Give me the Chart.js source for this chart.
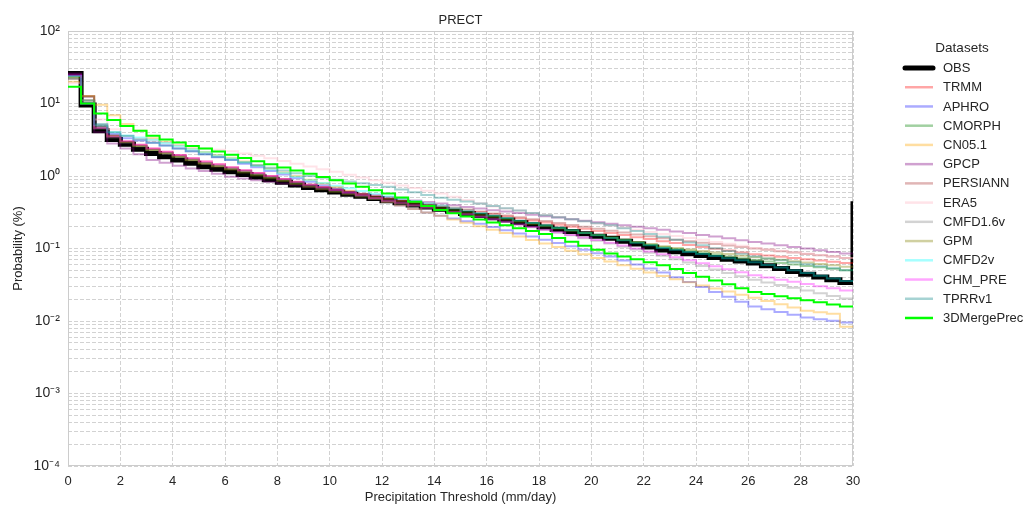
<!DOCTYPE html>
<html>
<head>
<meta charset="utf-8">
<script src="https://cdn.jsdelivr.net/npm/chart.js@4/dist/chart.umd.min.js"></script>
<style>
  html, body { margin: 0; padding: 0; background: #fff; }
  #wrap { width: 1025px; height: 508px; }
</style>
</head>
<body>
<div id="wrap"><canvas id="prect" width="1025" height="508"></canvas></div>
<script>
// precipitation thresholds (mm/day), one step every 0.5
const thresholds = [0, 0.5, 1, 1.5, 2, 2.5, 3, 3.5, 4, 4.5, 5, 5.5, 6, 6.5, 7, 7.5, 8, 8.5, 9, 9.5,
  10, 10.5, 11, 11.5, 12, 12.5, 13, 13.5, 14, 14.5, 15, 15.5, 16, 16.5, 17, 17.5, 18, 18.5, 19, 19.5,
  20, 20.5, 21, 21.5, 22, 22.5, 23, 23.5, 24, 24.5, 25, 25.5, 26, 26.5, 27, 27.5, 28, 28.5, 29, 29.5, 30];

const datasetNames = ['OBS', 'TRMM', 'APHRO', 'CMORPH', 'CN05.1', 'GPCP', 'PERSIANN', 'ERA5',
  'CMFD1.6v', 'GPM', 'CMFD2v', 'CHM_PRE', 'TPRRv1', '3DMergePrec'];

// probability (%) per threshold
const obs = [26, 9.5, 4.2, 3.2, 2.74, 2.33, 2.05, 1.85, 1.66, 1.5, 1.34, 1.24, 1.14, 1.05, 0.966, 0.889, 0.817, 0.752, 0.692, 0.646,
  0.603, 0.562, 0.525, 0.490, 0.457, 0.428, 0.399, 0.373, 0.349, 0.327, 0.305, 0.285, 0.265, 0.247, 0.229, 0.213, 0.198, 0.185, 0.171, 0.160,
  0.148, 0.138, 0.126, 0.115, 0.105, 0.0955, 0.0899, 0.0849, 0.080, 0.0753, 0.0710, 0.0670, 0.0631, 0.0577, 0.0528, 0.0483, 0.0443, 0.0405, 0.0371, 0.0339, 0.45];
const trmm = [22, 11, 5.0, 3.6, 3.02, 2.69, 2.40, 2.16, 1.95, 1.76, 1.58, 1.45, 1.32, 1.20, 1.10, 1.00, 0.912, 0.832, 0.759, 0.703,
  0.650, 0.603, 0.558, 0.516, 0.479, 0.451, 0.426, 0.401, 0.378, 0.356, 0.336, 0.316, 0.296, 0.277, 0.259, 0.243, 0.228, 0.213, 0.200, 0.187,
  0.175, 0.164, 0.153, 0.143, 0.135, 0.126, 0.119, 0.112, 0.105, 0.0993, 0.0935, 0.0883, 0.0832, 0.0800, 0.0769, 0.0740, 0.0710, 0.0682, 0.0656, 0.0631, 0.0631];
const aphro = [24, 10, 4.8, 3.8, 3.31, 3.09, 2.88, 2.63, 2.40, 2.19, 2.00, 1.82, 1.66, 1.48, 1.32, 1.17, 1.05, 0.933, 0.832, 0.746,
  0.671, 0.603, 0.541, 0.486, 0.437, 0.391, 0.351, 0.314, 0.282, 0.259, 0.238, 0.219, 0.198, 0.179, 0.161, 0.146, 0.132, 0.119, 0.107, 0.0959,
  0.0863, 0.0776, 0.0684, 0.0603, 0.0531, 0.0468, 0.0401, 0.0344, 0.0294, 0.0252, 0.0216, 0.0185, 0.0158, 0.0145, 0.0133, 0.0122, 0.0112, 0.0106, 0.0101, 0.0095, 0.0095];
const cmorph = [23, 11, 4.8, 3.6, 2.95, 2.60, 2.29, 2.07, 1.86, 1.68, 1.51, 1.38, 1.27, 1.16, 1.06, 0.968, 0.885, 0.811, 0.741, 0.689,
  0.641, 0.596, 0.553, 0.515, 0.479, 0.448, 0.420, 0.393, 0.368, 0.344, 0.323, 0.302, 0.280, 0.259, 0.240, 0.223, 0.207, 0.192, 0.178, 0.165,
  0.153, 0.142, 0.132, 0.122, 0.113, 0.105, 0.0986, 0.0931, 0.0877, 0.0826, 0.0778, 0.0734, 0.0692, 0.0661, 0.0631, 0.0603, 0.0575, 0.0550, 0.0525, 0.0501, 0.0501];
const cn051 = [20, 12.7, 9.6, 6.9, 5.2, 4.2, 3.31, 2.97, 2.66, 2.39, 2.14, 1.95, 1.78, 1.58, 1.41, 1.26, 1.12, 1.00, 0.891, 0.791,
  0.703, 0.624, 0.553, 0.492, 0.437, 0.391, 0.351, 0.314, 0.282, 0.252, 0.226, 0.203, 0.182, 0.163, 0.146, 0.131, 0.117, 0.105, 0.0933, 0.0832,
  0.0741, 0.0661, 0.0589, 0.0525, 0.0468, 0.0417, 0.0378, 0.0342, 0.0310, 0.0281, 0.0255, 0.0231, 0.0209, 0.0188, 0.0170, 0.0153, 0.0138, 0.0132, 0.0126, 0.0083, 0.0083];
const gpcp = [26, 12.4, 4.0, 2.8, 2.4, 2.0, 1.66, 1.52, 1.39, 1.27, 1.17, 1.07, 0.977, 0.927, 0.877, 0.832, 0.789, 0.746, 0.708, 0.671,
  0.635, 0.603, 0.571, 0.541, 0.513, 0.486, 0.461, 0.438, 0.416, 0.394, 0.374, 0.355, 0.338, 0.323, 0.308, 0.293, 0.279, 0.267, 0.254, 0.242,
  0.231, 0.220, 0.210, 0.200, 0.191, 0.182, 0.172, 0.163, 0.154, 0.146, 0.138, 0.130, 0.123, 0.117, 0.111, 0.105, 0.0998, 0.0946, 0.0897, 0.0851, 0.0851];
const persiann = [24, 12.7, 4.8, 3.6, 2.95, 2.63, 2.34, 2.10, 1.88, 1.69, 1.51, 1.39, 1.27, 1.17, 1.07, 0.982, 0.902, 0.826, 0.759, 0.705,
  0.656, 0.610, 0.566, 0.527, 0.490, 0.461, 0.436, 0.410, 0.386, 0.364, 0.344, 0.324, 0.305, 0.286, 0.270, 0.254, 0.239, 0.224, 0.211, 0.199,
  0.187, 0.176, 0.166, 0.156, 0.147, 0.138, 0.132, 0.126, 0.120, 0.115, 0.110, 0.105, 0.100, 0.0958, 0.0918, 0.0879, 0.0843, 0.0807, 0.0774, 0.0741, 0.0741];
const era5 = [19, 11, 6.0, 4.4, 3.6, 3.3, 3.1, 2.9, 2.7, 2.55, 2.4, 2.3, 2.2, 2.05, 1.9, 1.76, 1.61, 1.47, 1.35, 1.24,
  1.14, 1.04, 0.955, 0.877, 0.807, 0.741, 0.681, 0.627, 0.575, 0.519, 0.468, 0.422, 0.380, 0.356, 0.333, 0.310, 0.290, 0.272, 0.254, 0.237,
  0.222, 0.207, 0.194, 0.181, 0.169, 0.158, 0.149, 0.140, 0.132, 0.123, 0.116, 0.109, 0.102, 0.0977, 0.0933, 0.0891, 0.0851, 0.0813, 0.0776, 0.0741, 0.0741];
const cmfd16 = [24, 10, 4.5, 3.4, 2.88, 2.57, 2.29, 2.07, 1.86, 1.68, 1.51, 1.38, 1.26, 1.15, 1.05, 0.955, 0.871, 0.794, 0.724, 0.668,
  0.617, 0.569, 0.525, 0.484, 0.447, 0.417, 0.389, 0.363, 0.339, 0.316, 0.295, 0.275, 0.253, 0.232, 0.213, 0.196, 0.180, 0.165, 0.152, 0.139,
  0.128, 0.117, 0.106, 0.0966, 0.0875, 0.0794, 0.0713, 0.0640, 0.0574, 0.0514, 0.0461, 0.0414, 0.0372, 0.0341, 0.0313, 0.0288, 0.0264, 0.0242, 0.0222, 0.0204, 0.0204];
const gpm = [23, 12.5, 4.6, 3.5, 2.95, 2.60, 2.29, 2.06, 1.84, 1.65, 1.48, 1.35, 1.23, 1.12, 1.02, 0.933, 0.851, 0.776, 0.708, 0.656,
  0.607, 0.562, 0.521, 0.482, 0.447, 0.420, 0.394, 0.371, 0.348, 0.327, 0.307, 0.288, 0.269, 0.251, 0.233, 0.217, 0.202, 0.189, 0.176, 0.164,
  0.153, 0.142, 0.132, 0.123, 0.115, 0.107, 0.102, 0.0971, 0.0925, 0.0879, 0.0838, 0.0796, 0.0759, 0.0726, 0.0697, 0.0667, 0.0640, 0.0612, 0.0587, 0.0562, 0.0562];
const cmfd2 = [24, 10, 5.0, 4.0, 3.63, 3.39, 3.16, 2.86, 2.59, 2.34, 2.12, 1.92, 1.74, 1.55, 1.38, 1.23, 1.10, 0.977, 0.871, 0.800,
  0.736, 0.676, 0.621, 0.571, 0.525, 0.486, 0.451, 0.418, 0.388, 0.360, 0.333, 0.309, 0.286, 0.264, 0.244, 0.225, 0.208, 0.192, 0.178, 0.164,
  0.152, 0.140, 0.130, 0.120, 0.111, 0.102, 0.0958, 0.0897, 0.0839, 0.0787, 0.0736, 0.0690, 0.0646, 0.0593, 0.0545, 0.0500, 0.0458, 0.0421, 0.0386, 0.0355, 0.0355];
const chmPre = [25, 10, 4.6, 3.5, 3.02, 2.69, 2.40, 2.16, 1.95, 1.76, 1.58, 1.45, 1.32, 1.20, 1.10, 1.00, 0.912, 0.832, 0.759, 0.697,
  0.641, 0.589, 0.541, 0.498, 0.457, 0.426, 0.395, 0.368, 0.342, 0.318, 0.296, 0.275, 0.254, 0.233, 0.215, 0.198, 0.182, 0.167, 0.154, 0.142,
  0.131, 0.120, 0.110, 0.100, 0.0912, 0.0832, 0.0757, 0.0688, 0.0625, 0.0568, 0.0516, 0.0469, 0.0427, 0.0398, 0.0372, 0.0347, 0.0324, 0.0302, 0.0282, 0.0263, 0.0263];
const tprr = [22, 11, 5.2, 4.0, 3.55, 3.20, 2.88, 2.63, 2.40, 2.19, 2.00, 1.83, 1.68, 1.54, 1.41, 1.30, 1.19, 1.09, 1.00, 0.944,
  0.891, 0.841, 0.794, 0.750, 0.708, 0.649, 0.596, 0.546, 0.501, 0.471, 0.444, 0.417, 0.387, 0.360, 0.334, 0.310, 0.288, 0.270, 0.254, 0.238,
  0.223, 0.209, 0.191, 0.174, 0.158, 0.145, 0.132, 0.121, 0.111, 0.101, 0.0927, 0.0849, 0.0776, 0.0729, 0.0686, 0.0644, 0.0604, 0.0568, 0.0533, 0.0501, 0.0501];
const merge3d = [17, 10, 7.3, 5.9, 4.9, 4.2, 3.6, 3.2, 2.9, 2.6, 2.4, 2.17, 1.96, 1.77, 1.60, 1.45, 1.31, 1.19, 1.07, 0.966,
  0.871, 0.785, 0.708, 0.638, 0.575, 0.504, 0.442, 0.386, 0.339, 0.307, 0.277, 0.251, 0.229, 0.209, 0.191, 0.174, 0.158, 0.140, 0.124, 0.109,
  0.0964, 0.0851, 0.0776, 0.0708, 0.0646, 0.0589, 0.0521, 0.0461, 0.0408, 0.0362, 0.0321, 0.0284, 0.0251, 0.0235, 0.0220, 0.0206, 0.0193, 0.0181, 0.0169, 0.0158, 0.0158];

const seriesValues = [obs, trmm, aphro, cmorph, cn051, gpcp, persiann, era5, cmfd16, gpm, cmfd2, chmPre, tprr, merge3d];

const lineColors = ['#000000', 'rgba(255,0,0,0.35)', 'rgba(0,0,255,0.33)', 'rgba(0,128,0,0.37)',
  'rgba(255,165,0,0.37)', 'rgba(128,0,128,0.37)', 'rgba(165,42,42,0.35)', 'rgba(255,192,203,0.45)',
  'rgba(128,128,128,0.35)', 'rgba(128,128,0,0.37)', 'rgba(0,255,255,0.35)', 'rgba(255,0,255,0.35)',
  'rgba(0,128,128,0.35)', '#00ff00'];

const decadeExponents = [-4, -3, -2, -1, 0, 1, 2];

const FONT = '"Liberation Sans", Arial, sans-serif';
const TEXT = '#262626';
const GRID = '#d2d2d2';

const supDigits = {'-': '\u207B', '0': '\u2070', '1': '\u00B9', '2': '\u00B2', '3': '\u00B3', '4': '\u2074'};
function decadeLabel(v) {
  const e = Math.round(Math.log10(v));
  if (Math.abs(v / Math.pow(10, e) - 1) > 1e-6) return '';
  return '10' + String(e).split('').map(c => supDigits[c]).join('');
}

const yTicks = [];
decadeExponents.forEach(e => {
  if (e === decadeExponents[decadeExponents.length - 1]) { yTicks.push(Math.pow(10, e)); return; }
  for (let k = 1; k <= 9; k++) yTicks.push(k * Math.pow(10, e));
});

const datasets = datasetNames.map((name, i) => ({
  label: name,
  data: thresholds.map((t, j) => ({x: t, y: seriesValues[i][j]})),
  borderColor: lineColors[i],
  backgroundColor: lineColors[i],
  borderWidth: i === 0 ? 5 : 2,
  stepped: 'before',
  pointRadius: 0,
  fill: false,
  borderJoinStyle: 'miter',
  borderCapStyle: 'butt',
  order: datasetNames.length - i
}));

const decorations = {
  id: 'decorations',
  beforeDatasetsDraw(chart) {
    const {ctx, chartArea: a} = chart;
    ctx.save();
    ctx.strokeStyle = '#cccccc';
    ctx.lineWidth = 1;
    ctx.strokeRect(a.left + 0.5, a.top + 0.5, a.right - a.left - 1, a.bottom - a.top - 1);
    ctx.restore();
  },
  afterDraw(chart) {
    const {ctx, chartArea: a} = chart;
    ctx.save();
    ctx.fillStyle = TEXT;
    ctx.textAlign = 'center';
    ctx.textBaseline = 'middle';
    ctx.font = '13px ' + FONT;
    ctx.fillText('PRECT', (a.left + a.right) / 2, 20);

    // legend
    ctx.font = '13.5px ' + FONT;
    ctx.fillText('Datasets', 962, 48);
    ctx.textAlign = 'left';
    ctx.font = '13px ' + FONT;
    chart.data.datasets.forEach((ds, i) => {
      const y = 68 + i * 19.23;
      ctx.beginPath();
      ctx.strokeStyle = ds.borderColor;
      ctx.lineWidth = i === 0 ? 5 : 2.5;
      ctx.lineCap = i === 0 ? 'round' : 'butt';
      ctx.moveTo(905, y);
      ctx.lineTo(933, y);
      ctx.stroke();
      ctx.fillStyle = TEXT;
      ctx.fillText(ds.label, 943, y + 0.5);
    });
    ctx.restore();
  }
};

new Chart(document.getElementById('prect').getContext('2d'), {
  type: 'line',
  data: { datasets },
  options: {
    responsive: false,
    animation: false,
    events: [],
    layout: { padding: { left: 0, right: 172, top: 31, bottom: 0 } },
    scales: {
      x: {
        type: 'linear',
        min: 0,
        max: 30,
        afterFit(scale) { scale.height = 42; },
        ticks: { stepSize: 2, maxRotation: 0, padding: 8, color: TEXT, font: { family: FONT, size: 13 } },
        grid: { color: GRID, lineWidth: 1, drawTicks: false },
        border: { display: false, dash: [4, 2] },
        title: { display: true, text: 'Precipitation Threshold (mm/day)', color: TEXT,
          font: { family: FONT, size: 13 }, padding: { top: 0, bottom: 3 } }
      },
      y: {
        type: 'logarithmic',
        min: 1e-4,
        max: 100,
        afterFit(scale) { scale.width = 68; },
        afterBuildTicks(scale) { scale.ticks = yTicks.map(v => ({value: v})); },
        ticks: { autoSkip: false, padding: 8, color: TEXT, font: { family: FONT, size: 14 },
          callback: (v) => decadeLabel(v) },
        grid: { color: GRID, lineWidth: 1, drawTicks: false },
        border: { display: false, dash: [4, 2] },
        title: { display: true, text: 'Probability (%)', color: TEXT,
          font: { family: FONT, size: 13 }, padding: { top: 11, bottom: 0 } }
      }
    },
    plugins: {
      legend: { display: false },
      tooltip: { enabled: false },
      title: { display: false }
    }
  },
  plugins: [decorations]
});
</script>
</body>
</html>
